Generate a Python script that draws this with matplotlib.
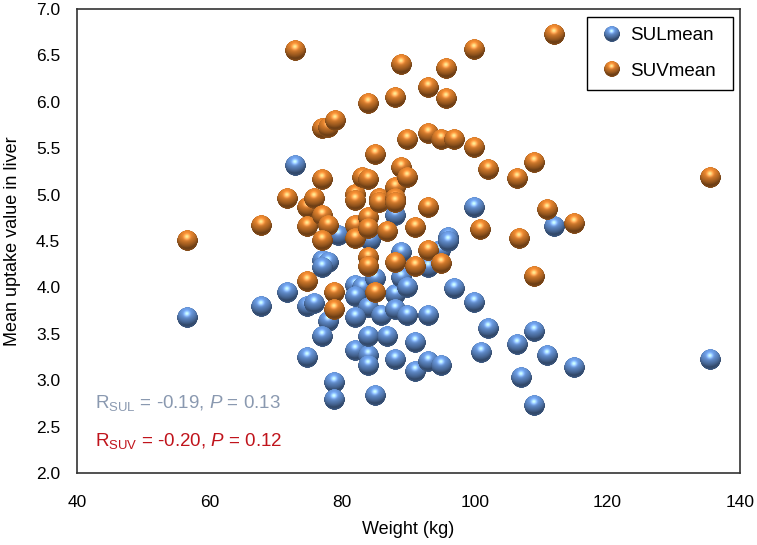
import numpy as np
import matplotlib
matplotlib.use("Agg")
import matplotlib.pyplot as plt
from matplotlib.colors import to_rgb
from matplotlib.lines import Line2D
from matplotlib.legend_handler import HandlerBase
from matplotlib.offsetbox import OffsetImage, AnnotationBbox

plt.rcParams['font.family'] = ['Liberation Sans', 'DejaVu Sans']
plt.rcParams['mathtext.fontset'] = 'custom'
plt.rcParams['mathtext.rm'] = 'Liberation Sans'
plt.rcParams['mathtext.it'] = 'Liberation Sans:italic'

# weight (kg) and mean uptake values
sul_weight = [56.7, 67.9, 71.8, 73.0, 74.8, 75.9, 74.8, 77.0, 77.9, 77.0, 77.9, 77.0,
              79.4, 78.9, 78.9, 82.0, 83.0, 82.0, 83.9, 82.0, 82.0, 83.9, 83.9, 83.9,
              84.2, 85.0, 85.0, 86.0, 86.9, 88.0, 88.0, 88.0, 88.0, 89.0, 89.0, 89.9,
              89.9, 91.0, 91.0, 93.0, 93.0, 93.0, 94.8, 95.0, 96.0, 96.0, 97.0, 100.0,
              100.0, 101.0, 102.0, 106.5, 107.0, 109.0, 109.0, 111.0, 112.0, 115.0, 135.6]
sul_mean = [3.68, 3.79, 3.94, 5.31, 3.79, 3.83, 3.25, 4.29, 4.27, 4.21, 3.63, 3.47,
            4.56, 2.97, 2.79, 4.02, 4.00, 3.90, 3.78, 3.68, 3.32, 3.27, 3.16, 3.47,
            4.51, 4.10, 2.84, 3.70, 3.47, 4.78, 3.92, 3.76, 3.22, 4.38, 4.11, 4.00,
            3.70, 3.41, 3.09, 4.21, 3.70, 3.20, 4.40, 3.16, 4.54, 4.49, 3.99, 4.86,
            3.84, 3.30, 3.56, 3.39, 3.03, 3.53, 2.73, 3.27, 4.66, 3.14, 3.22]

suv_weight = [56.7, 67.9, 71.8, 73.0, 74.8, 74.8, 74.8, 75.9, 77.0, 77.9, 79.0, 77.0,
              77.0, 77.9, 77.0, 78.9, 78.9, 82.0, 82.0, 82.0, 82.0, 83.0, 83.9, 83.9,
              83.9, 83.9, 83.9, 83.9, 85.0, 85.0, 85.7, 85.7, 86.9, 88.0, 88.0, 88.0,
              88.0, 88.0, 89.0, 89.0, 89.9, 89.9, 91.0, 91.0, 93.0, 93.0, 93.0, 93.0,
              95.0, 95.0, 95.8, 95.8, 97.0, 100.0, 100.0, 100.8, 102.0, 106.5, 106.8,
              109.0, 109.0, 111.0, 112.0, 115.0, 135.5]
suv_mean = [4.51, 4.67, 4.96, 6.55, 4.86, 4.66, 4.06, 4.96, 5.71, 5.72, 5.80, 5.16,
            4.78, 4.67, 4.51, 3.94, 3.76, 5.00, 4.94, 4.67, 4.53, 5.18, 5.16, 5.98,
            4.75, 4.64, 4.32, 4.22, 5.43, 3.94, 4.96, 4.91, 4.60, 6.05, 5.08, 4.96,
            4.91, 4.27, 6.40, 5.29, 5.59, 5.18, 4.65, 4.22, 6.15, 5.66, 4.86, 4.40,
            5.59, 4.26, 6.36, 6.04, 5.59, 6.56, 5.51, 4.62, 5.27, 5.17, 4.53,
            5.35, 4.12, 4.84, 6.72, 4.69, 5.18]

sul_color = '#6593d6'
suv_color = '#dc7f2c'


def sphere(color, n=64):
    yy, xx = np.mgrid[-1:1:n * 1j, -1:1:n * 1j]
    u, v = xx, -yy
    r = np.sqrt(u * u + v * v)
    z = np.sqrt(np.clip(1 - r * r, 0, 1))
    light = np.array([-0.1, 0.7, 0.7])
    light = light / np.linalg.norm(light)
    diff = np.clip(u * light[0] + v * light[1] + z * light[2], 0, 1)
    half = light + np.array([0, 0, 1.0])
    half = half / np.linalg.norm(half)
    spec = np.clip(u * half[0] + v * half[1] + z * half[2], 0, 1) ** 25
    base = np.array(to_rgb(color))
    rgb = base[None, None, :] * (0.5 + 0.6 * diff[..., None]) + 0.4 * spec[..., None]
    # faint reflected light at the bottom rim
    rim = np.clip(-v, 0, 1) * np.clip(r - 0.8, 0, 1) * 1.5
    rgb = rgb + rim[..., None] * base * 0.4
    img = np.zeros((n, n, 4))
    img[..., :3] = np.clip(rgb, 0, 1)
    img[..., 3] = np.clip((1 - r) * n / 2 + 0.5, 0, 1)
    return img


class SphereHandler(HandlerBase):
    def __init__(self, img, zoom):
        super().__init__()
        self.img = img
        self.zoom = zoom

    def create_artists(self, legend, orig_handle, xdescent, ydescent,
                       width, height, fontsize, trans):
        oi = OffsetImage(self.img, zoom=self.zoom, dpi_cor=False)
        ab = AnnotationBbox(oi, (width / 2 - xdescent, height / 2 - ydescent),
                            xycoords=trans, frameon=False, pad=0)
        return [ab]


sul_img = sphere(sul_color)
suv_img = sphere(suv_color)

fig = plt.figure(figsize=(7.57, 5.45), dpi=100)
ax = fig.add_axes([0.1017, 0.1321, 0.8758, 0.8514])
ax.set_xlim(40, 140)
ax.set_ylim(2.0, 7.0)

for img, xs, ys in [(sul_img, sul_weight, sul_mean), (suv_img, suv_weight, suv_mean)]:
    for x, y in zip(xs, ys):
        ab = AnnotationBbox(OffsetImage(img, zoom=21 / 64, dpi_cor=False), (x, y),
                            xycoords='data', frameon=False, pad=0)
        ax.add_artist(ab)

ax.set_xticks(np.arange(40, 141, 20))
ax.set_yticks(np.arange(2.0, 7.01, 0.5))
ax.set_yticklabels(['%.1f' % t for t in np.arange(2.0, 7.01, 0.5)])
ax.tick_params(length=0, labelsize=12.5)
ax.tick_params(axis='x', pad=16)
ax.tick_params(axis='y', pad=12)
for s in ax.spines.values():
    s.set_color('#333333')
    s.set_linewidth(1.2)

ax.set_xlabel('Weight (kg)', fontsize=13, labelpad=8)
ax.set_ylabel('Mean uptake value in liver', fontsize=13, labelpad=11)

ax.text(0.027, 0.14, r'R$_{\mathrm{SUL}}$ = -0.19, $\mathit{P}$ = 0.13',
        transform=ax.transAxes, fontsize=13.5, color='#8a99b0')
ax.text(0.027, 0.058, r'R$_{\mathrm{SUV}}$ = -0.20, $\mathit{P}$ = 0.12',
        transform=ax.transAxes, fontsize=13.5, color='#c0141c')

h_sul = Line2D([], [], linestyle='none', label='SULmean')
h_suv = Line2D([], [], linestyle='none', label='SUVmean')
leg = ax.legend(handles=[h_sul, h_suv],
                handler_map={h_sul: SphereHandler(sul_img, 16 / 64),
                             h_suv: SphereHandler(suv_img, 16 / 64)},
                loc='upper left', bbox_to_anchor=(0.769, 0.0, 0.2202, 0.983),
                mode='expand', borderaxespad=0,
                fontsize=13.5, fancybox=False, framealpha=1, edgecolor='black',
                borderpad=0.55, handlelength=1.57, handletextpad=0.18,
                labelspacing=0.98)
leg.get_frame().set_linewidth(1.0)

plt.savefig('out.png', dpi=100)
